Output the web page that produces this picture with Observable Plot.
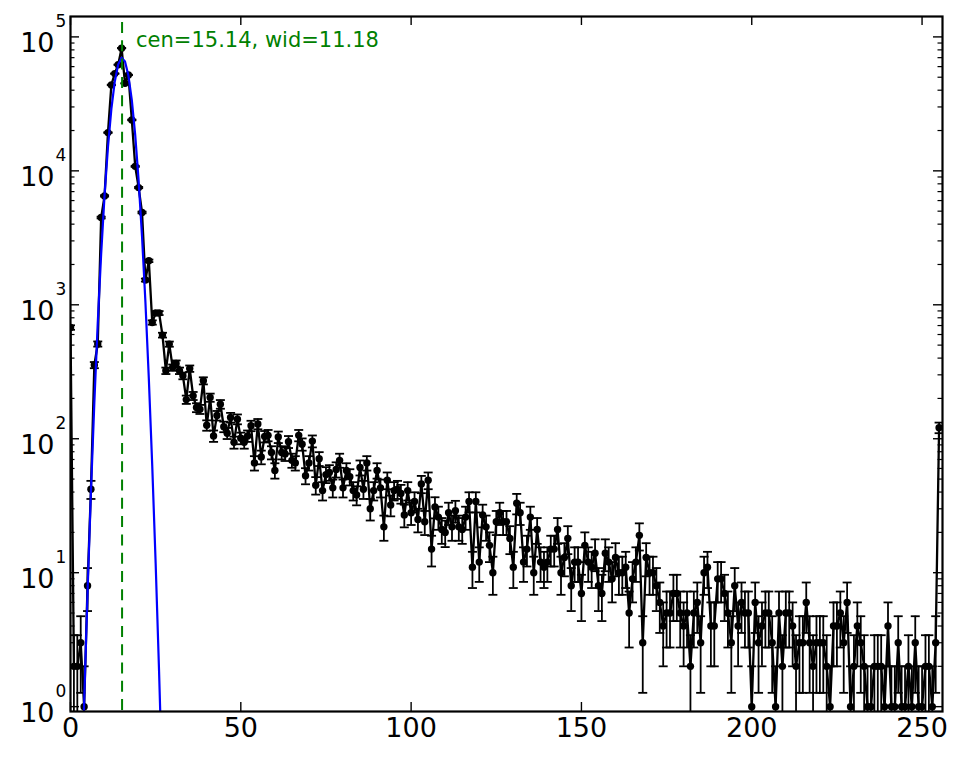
<!DOCTYPE html>
<html><head><meta charset="utf-8">
<script src="https://cdn.jsdelivr.net/npm/d3@7"></script>
<script src="https://cdn.jsdelivr.net/npm/@observablehq/plot@0.6"></script>
<style>html,body{margin:0;padding:0;background:#fff;overflow:hidden}</style>
</head><body><div id="chart"></div>
<script>
// histogram counts per channel (channel = index 0..255)
const counts = [
  677, 2, 2, 3, 1, 8, 42, 355, 510, 4480,
  6500, 19300, 43800, 53200, 62000, 82400, 45000, 52000, 24000, 10800,
  7500, 4890, 1530, 2130, 738, 868, 868, 594, 322, 509,
  340, 365, 322, 295, 196, 334, 209, 171, 166, 271,
  126, 203, 105, 149, 181, 123, 110, 144, 94, 140,
  101, 94, 105, 125, 66, 129, 73, 104, 106, 79,
  58, 103, 79, 77, 95, 69, 66, 106, 91, 53,
  66, 96, 45, 71, 41, 54, 56, 43, 59, 69,
  43, 58, 52, 41, 38, 61, 42, 66, 30, 41,
  58, 43, 22, 49, 32, 41, 42, 39, 27, 41,
  28, 34, 25, 46, 24, 49, 15, 31, 26, 21,
  20, 28, 22, 29, 22, 21, 26, 34, 11, 34,
  12, 27, 22, 16, 10, 24, 28, 24, 24, 18,
  11, 33, 28, 12, 15, 26, 10, 21, 12, 11,
  12, 15, 15, 21, 10, 13, 18, 8, 12, 12,
  7, 16, 12, 11, 14, 8, 7, 14, 12, 9,
  13, 10, 10, 11, 5, 9, 12, 19, 3, 13,
  10, 10, 8, 6, 4, 5, 5, 7, 7, 5,
  4, 5, 2, 5, 6, 3, 10, 11, 4, 4,
  9, 9, 7, 5, 3, 8, 4, 6, 5, 5,
  1, 6, 3, 4, 5, 5, 3, 1, 5, 2,
  5, 5, 4, 2, 3, 3, 6, 3, 2, 3,
  3, 3, 2, 1, 4, 4, 5, 3, 6, 1,
  2, 4, 3, 2, 1, 1, 2, 2, 2, 1,
  4, 1, 1, 3, 1, 1, 2, 1, 3, 1,
  1, 2, 2, 1, 3, 121
];
// fitted gaussian curve, read at integer channels
const fitX = [3, 4, 5, 6, 7, 8, 9, 10, 11, 12, 13, 14, 15, 16, 17, 18, 19, 20, 21, 22, 23, 24, 25, 26, 27];
const fitY = [0.13, 1.06, 7.1, 40, 187, 732, 2400, 6590, 15100, 29000, 46500, 62300, 69900, 65500, 51400, 33700, 18500, 8460, 3240, 1040, 279, 62.5, 11.7, 1.84, 0.24];
const cen = 15.14, wid = 11.18;
const xTicks = [0, 50, 100, 150, 200, 250];
const yExps = [0, 1, 2, 3, 4, 5];
const yMinorMult = [2, 3, 4, 5, 6, 7, 8, 9];

const data = counts.map((c, i) => ({x: i, y: c, lo: Math.max(c - Math.sqrt(c), 1e-3), hi: c + Math.sqrt(c)}));
const fit = fitX.map((x, i) => ({x, y: fitY[i]}));
const yMajor = yExps.map(e => Math.pow(10, e));
const yMinor = [];
for (const e of [0, 1, 2, 3, 4]) for (const m of yMinorMult) yMinor.push(m * Math.pow(10, e));

const W = 965, H = 757, mL = 70, mR = 23, mT = 16, mB = 46;
const pw = W - mL - mR, ph = H - mT - mB;
const cap = {draw(ctx) { ctx.moveTo(-4.5, 0); ctx.lineTo(4.5, 0); }};
const F = "DejaVu Sans";

const chart = Plot.plot({
  width: W, height: H,
  marginLeft: mL, marginRight: mR, marginTop: mT, marginBottom: mB,
  x: {type: "linear", domain: [0, 256], axis: null},
  y: {type: "log", domain: [0.92, 1.42e5], axis: null},
  style: {fontFamily: F, background: "white"},
  marks: [
    Plot.ruleX(data, {x: "x", y1: "lo", y2: "hi", stroke: "black", strokeWidth: 1.8, clip: true}),
    Plot.dot(data, {x: "x", y: "lo", symbol: cap, fill: "none", stroke: "black", strokeWidth: 1.8, clip: true}),
    Plot.dot(data, {x: "x", y: "hi", symbol: cap, fill: "none", stroke: "black", strokeWidth: 1.8, clip: true}),
    Plot.line(data, {x: "x", y: "y", stroke: "black", strokeWidth: 2.3, clip: true}),
    Plot.dot(data, {x: "x", y: "y", r: 3.7, fill: "black", stroke: "none", clip: true}),
    Plot.line(fit, {x: "x", y: "y", stroke: "#0000ff", strokeWidth: 2.2, clip: true}),
    Plot.ruleX([cen], {x: d => d, stroke: "#008000", strokeWidth: 2, strokeDasharray: "11,7.3", strokeDashoffset: 12.3}),
    Plot.text([`cen=${cen.toFixed(2)}, wid=${wid.toFixed(2)}`], {x: () => cen, text: d => d, frameAnchor: "top", dx: 14, dy: 30, textAnchor: "start", lineAnchor: "bottom", fill: "#008000", fontSize: 21, fontFamily: F}),
    Plot.frame({stroke: "black", strokeWidth: 2.2}),
    Plot.tickY(yMajor, {y: d => d, insetRight: pw - 9, stroke: "black", strokeWidth: 1.4}),
    Plot.tickY(yMajor, {y: d => d, insetLeft: pw - 9, stroke: "black", strokeWidth: 1.4}),
    Plot.tickY(yMinor, {y: d => d, insetRight: pw - 4.5, stroke: "black", strokeWidth: 1.2}),
    Plot.tickY(yMinor, {y: d => d, insetLeft: pw - 4.5, stroke: "black", strokeWidth: 1.2}),
    Plot.tickX(xTicks, {x: d => d, insetTop: ph - 9, stroke: "black", strokeWidth: 1.4}),
    Plot.tickX(xTicks, {x: d => d, insetBottom: ph - 9, stroke: "black", strokeWidth: 1.4}),
    Plot.text(xTicks, {x: d => d, text: d => String(d), frameAnchor: "bottom", dy: 25, lineAnchor: "bottom", textAnchor: "middle", fontSize: 27, fill: "black", fontFamily: F}),
    Plot.text(yMajor, {y: d => d, text: () => "10", frameAnchor: "left", dx: -16, dy: 15, textAnchor: "end", lineAnchor: "bottom", fontSize: 27, fill: "black", fontFamily: F}),
    Plot.text(yExps, {y: d => Math.pow(10, d), text: d => String(d), frameAnchor: "left", dx: -15, dy: -10, textAnchor: "start", lineAnchor: "bottom", fontSize: 17, fill: "black", fontFamily: F})
  ]
});
document.getElementById("chart").appendChild(chart);
</script>
</body></html>
